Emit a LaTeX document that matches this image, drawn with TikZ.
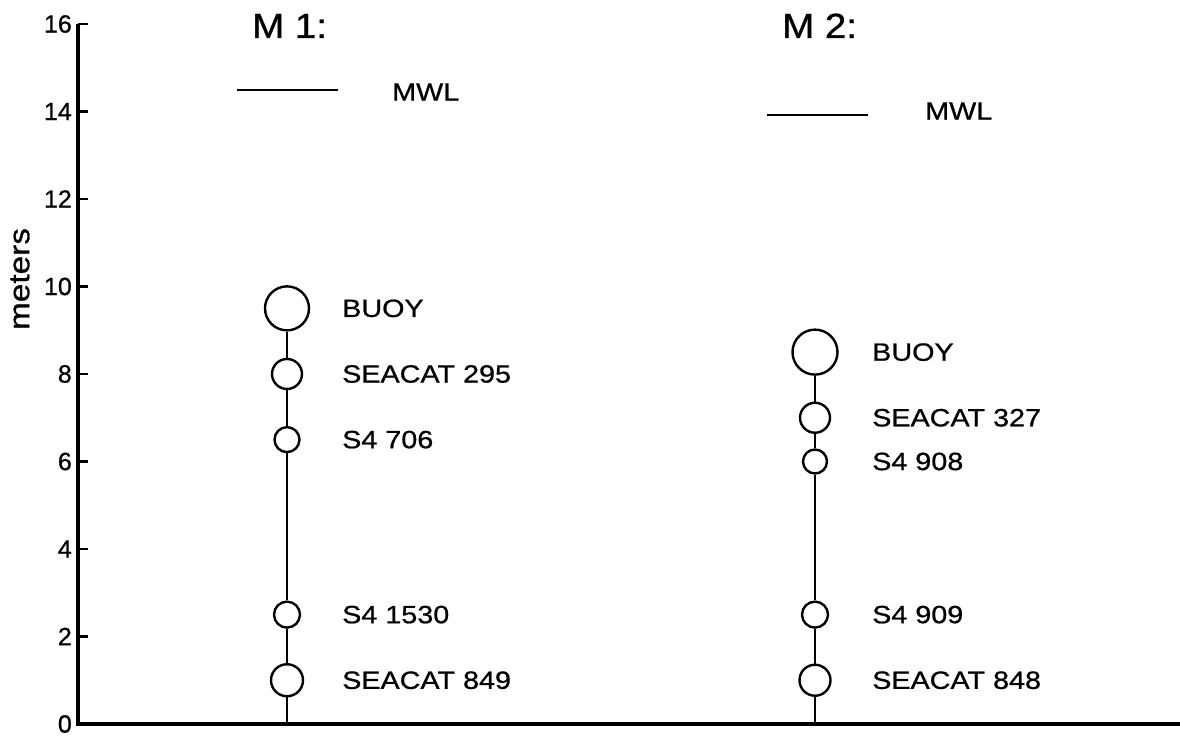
\documentclass[tikz,border=0pt]{standalone}
\usepackage{fontspec}
\setmainfont[FakeBold=0.8]{Liberation Sans}
\newfontfamily\labfont[FakeStretch=1.15,FakeBold=0.8]{Liberation Sans}
\newfontfamily\titfont[FakeStretch=1.1,FakeBold=0.8]{Liberation Sans}
\begin{document}
\begin{tikzpicture}[x=1pt,y=1pt,
  inst/.style={circle,draw,fill=white,line width=2.4pt,inner sep=0pt},
  lab/.style={anchor=west,inner sep=0pt,font=\labfont\fontsize{25}{25}\selectfont},
  ticklab/.style={anchor=east,inner sep=0pt,font=\fontsize{25}{25}\selectfont},
  title/.style={anchor=base west,inner sep=0pt,font=\titfont\fontsize{35}{35}\selectfont},
  rope/.style={line width=2.4pt},
  axis/.style={line width=3.2pt}]
\useasboundingbox (0,0) rectangle (1180,738);
% axes
\coordinate (o) at (78,14);
\coordinate (top) at (78,{14+43.75*16});
\coordinate (xend) at (1180,14);
\draw[axis] (top) -- (o) -- (xend);
\foreach \v in {0,2,...,16}{
  \draw[line width=2.4pt] (78,{14+43.75*\v}) -- (88,{14+43.75*\v});
  \node[ticklab] (t\v) at (72,{14+43.75*\v}) {\v};
}
\node[rotate=90,inner sep=0pt,font=\labfont\fontsize{29}{29}\selectfont] (ylab) at (20,459) {meters};
% titles
\node[title] (m1t) at (252,700) {M 1:};
\node[title] (m2t) at (782,700) {M 2:};
% MWL
\coordinate (mwl1a) at (237,648);
\coordinate (mwl1b) at (338,648);
\draw[line width=2pt] (mwl1a) -- (mwl1b);
\node[lab] (mwl1) at (392,646) {MWL};
\coordinate (mwl2a) at (767,623);
\coordinate (mwl2b) at (868,623);
\draw[line width=2pt] (mwl2a) -- (mwl2b);
\node[lab] (mwl2) at (925,627) {MWL};
% Mooring 1
\coordinate (b1) at (287,14);
\node[inst,minimum size=44pt] (buoy1) at (287,{14+43.75*9.5}) {};
\node[inst,minimum size=30pt] (sc295) at (287,{14+43.75*8}) {};
\node[inst,minimum size=25pt] (s706) at (287,{14+43.75*6.5}) {};
\node[inst,minimum size=26pt] (s1530) at (287,{14+43.75*2.5}) {};
\node[inst,minimum size=32pt] (sc849) at (287,{14+43.75*1}) {};
\draw[rope] (b1) -- (sc849.south);
\draw[rope] (sc849.north) -- (s1530.south);
\draw[rope] (s1530.north) -- (s706.south);
\draw[rope] (s706.north) -- (sc295.south);
\draw[rope] (sc295.north) -- (buoy1.south);
\node[lab] (lbuoy1) at (342,{14+43.75*9.5}) {BUOY};
\node[lab] (lsc295) at (342,{14+43.75*8}) {SEACAT 295};
\node[lab] (ls706) at (342,{14+43.75*6.5}) {S4 706};
\node[lab] (ls1530) at (342,{14+43.75*2.5}) {S4 1530};
\node[lab] (lsc849) at (342,{14+43.75*1}) {SEACAT 849};
% Mooring 2
\coordinate (b2) at (815,14);
\node[inst,minimum size=45pt] (buoy2) at (815,{14+43.75*8.5}) {};
\node[inst,minimum size=30pt] (sc327) at (815,{14+43.75*7}) {};
\node[inst,minimum size=24pt] (s908) at (815,{14+43.75*6}) {};
\node[inst,minimum size=26pt] (s909) at (815,{14+43.75*2.5}) {};
\node[inst,minimum size=31pt] (sc848) at (815,{14+43.75*1}) {};
\draw[rope] (b2) -- (sc848.south);
\draw[rope] (sc848.north) -- (s909.south);
\draw[rope] (s909.north) -- (s908.south);
\draw[rope] (s908.north) -- (sc327.south);
\draw[rope] (sc327.north) -- (buoy2.south);
\node[lab] (lbuoy2) at (872,{14+43.75*8.5}) {BUOY};
\node[lab] (lsc327) at (872,{14+43.75*7}) {SEACAT 327};
\node[lab] (ls908) at (872,{14+43.75*6}) {S4 908};
\node[lab] (ls909) at (872,{14+43.75*2.5}) {S4 909};
\node[lab] (lsc848) at (872,{14+43.75*1}) {SEACAT 848};
\end{tikzpicture}
\end{document}
